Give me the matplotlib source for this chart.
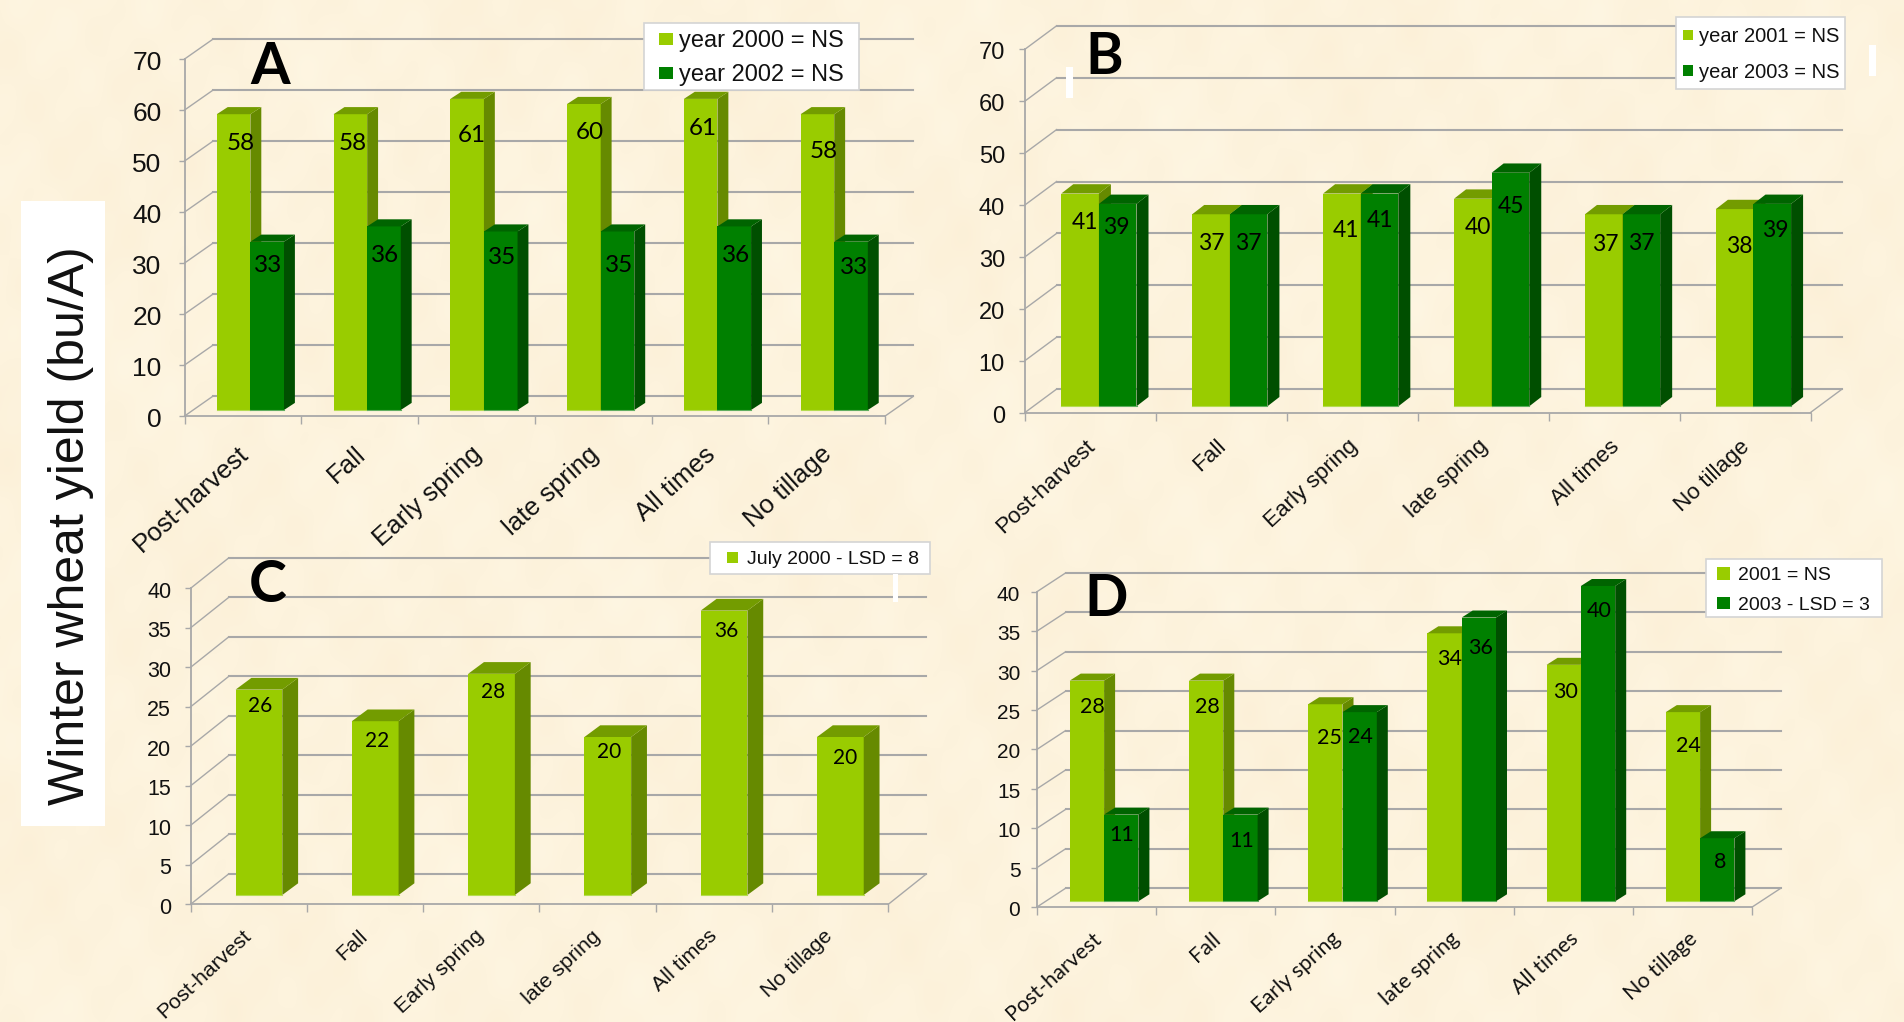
import matplotlib
matplotlib.use("Agg")
import matplotlib.pyplot as plt
import numpy as np
from matplotlib.patches import Polygon, Rectangle
from matplotlib.transforms import ScaledTranslation

W, H = 1904, 1022

CATEGORIES = ["Post-harvest", "Fall", "Early spring", "late spring", "All times", "No tillage"]

A_2000 = [58, 58, 61, 60, 61, 58]
A_2002 = [33, 36, 35, 35, 36, 33]
B_2001 = [41, 37, 41, 40, 37, 38]
B_2003 = [39, 37, 41, 45, 37, 39]
C_2000 = [26, 22, 28, 20, 36, 20]
D_2001 = [28, 28, 25, 34, 30, 24]
D_2003 = [11, 11, 24, 36, 40, 8]

LIGHT = ("#99CC00", "#668A00", "#739C00", "#B4DC50")
DARK = ("#008000", "#004F00", "#006400", "#5FAE5F")
GRID = "#a8a8a8"
ARIAL = "Liberation Sans"
CALIBRI = "Lato"


def draw_bar(ax, left, value, width, base, depth_x, depth_y, colors):
    front, side, top, rim = colors
    right = left + width
    high = base + value
    ax.bar(left, value, width, bottom=base, align="edge", color=front, linewidth=0, zorder=3, clip_on=False)
    ax.add_patch(Polygon([(right, base), (right + depth_x, base + depth_y),
                          (right + depth_x, high + depth_y), (right, high)],
                         facecolor=side, edgecolor="none", zorder=3, clip_on=False))
    ax.add_patch(Polygon([(left, high), (left + depth_x, high + depth_y),
                          (right + depth_x, high + depth_y), (right, high)],
                         facecolor=top, edgecolor="none", zorder=3, clip_on=False))
    ax.plot([left, right], [base, base], color=rim, lw=0.8, zorder=4, clip_on=False)


def draw_panel(p):
    x0, x1, y0, ytop = p["front"]
    ax = fig.add_axes([x0 / W, 1 - y0 / H, (x1 - x0) / W, (y0 - ytop) / H], zorder=1)
    ax.patch.set_alpha(0)
    ymax = p["ymax"]
    ax.set_xlim(0, 6)
    ax.set_ylim(0, ymax)
    xpx = (x1 - x0) / 6
    ypx = (y0 - ytop) / ymax

    for s in ["top", "right"]:
        ax.spines[s].set_visible(False)
    for s in ["left", "bottom"]:
        ax.spines[s].set_color(GRID)
        ax.spines[s].set_linewidth(1.3)
    ax.set_xticks(range(7))
    ax.set_xticklabels([])
    ticks = list(range(0, ymax + 1, p["step"]))
    ax.set_yticks(ticks)
    ax.set_yticklabels([str(t) for t in ticks], fontsize=p["tick_size"], family=ARIAL, color="#111111")
    ax.tick_params(axis="y", length=4, width=1, color=GRID, pad=p["pad"])
    ax.tick_params(axis="x", length=6, width=1, color=GRID)
    nudge = ScaledTranslation(0, -1.5 / 100, fig.dpi_scale_trans)
    for label in ax.get_yticklabels():
        label.set_transform(label.get_transform() + nudge)

    # back wall and floor
    wall_x = p["wall"][0] / xpx
    wall_y = p["wall"][1] / ypx
    for t in ticks:
        ax.plot([0, wall_x], [t, t + wall_y], color=GRID, lw=1.0, zorder=1, clip_on=False)
        ax.plot([wall_x, 6 + wall_x], [t + wall_y, t + wall_y], color=GRID, lw=1.5, zorder=1, clip_on=False)
    ax.plot([6, 6 + wall_x], [0, wall_y], color=GRID, lw=1.0, zorder=1, clip_on=False)

    base = (y0 - p["bar_base"]) / ypx
    start = (p["bar_left"] - x0) / xpx
    width = p["bar_width"] / xpx
    depth_x = p["bar_depth"][0] / xpx
    depth_y = p["bar_depth"][1] / ypx
    for k, (values, colors, drop, shift) in enumerate(p["series"]):
        for i, v in enumerate(values):
            left = i + start + k * width
            draw_bar(ax, left, v, width, base, depth_x, depth_y, colors)
            ax.text(left + width / 2 + shift[i] / xpx, base + v - drop[i] / ypx, str(v),
                    ha="center", va="center", fontsize=p["label_size"], family=CALIBRI,
                    color="black", zorder=5)

    for i, c in enumerate(CATEGORIES):
        ax.annotate(c, xy=(i + 0.5, 0), xytext=p["cat_offset"], textcoords="offset pixels",
                    ha="right", va="center", rotation=p["cat_angle"], rotation_mode="anchor",
                    fontsize=p["cat_size"], family=p["cat_font"], color="#111111", annotation_clip=False)


def draw_legend(box, entries, size):
    bx0, bx1, by0, by1 = box
    over.add_patch(Rectangle((bx0, by0), bx1 - bx0, by1 - by0, facecolor="white", edgecolor="#d4d4d4", lw=1.2))
    for text, color, (sx0, sx1, sy0, sy1), tx in entries:
        over.add_patch(Rectangle((sx0, sy0), sx1 - sx0, sy1 - sy0, facecolor=color, edgecolor="none"))
        over.text(tx, (sy0 + sy1) / 2, text, ha="left", va="center_baseline", fontsize=size,
                  family=ARIAL, color="#111111")


fig = plt.figure(figsize=(W / 100, H / 100), dpi=100)

# parchment background, soft blotches on a cream base
bg = fig.add_axes([0, 0, 1, 1], zorder=0)
bg.set_axis_off()
yy, xx = np.mgrid[0:H:4, 0:W:4]
blotch = (np.sin(xx / 47.0 + yy / 83.0) * 0.5 + np.sin(xx / 19.0 - yy / 31.0) * 0.6
          + np.sin(xx / 113.0 - yy / 59.0) * 0.5 + np.sin(xx / 11.0 + yy / 13.0) * 0.5
          + np.sin(xx / 7.0 - yy / 17.0) * 0.3)
tex = np.zeros(xx.shape + (3,))
tex[..., 0] = (253 + blotch * 0.5) / 255
tex[..., 1] = (243 + blotch * 1.2) / 255
tex[..., 2] = (221 + blotch * 2.2) / 255
bg.imshow(np.clip(tex, 0, 1), extent=(0, W, H, 0), aspect="auto", interpolation="bicubic")
bg.set_xlim(0, W)
bg.set_ylim(H, 0)

# y title sits on its own white block
bg.add_patch(Rectangle((21, 201), 84, 625, facecolor="white", edgecolor="none"))
bg.text(71, 526, "Winter wheat yield (bu/A)", rotation=90, ha="center", va="center",
        fontsize=36, family=ARIAL, color="#111111")

over = fig.add_axes([0, 0, 1, 1], zorder=2)
over.set_axis_off()
over.patch.set_alpha(0)
over.set_xlim(0, W)
over.set_ylim(H, 0)

panels = [
    dict(front=(184.6, 885.2, 416, 59), ymax=70, step=10, wall=(28, 19.6), bar_base=410, bar_left=216.8,
         bar_width=33.6, bar_depth=(10.9, 7.1), tick_size=19, pad=12.6, label_size=17.5,
         cat_size=18.6, cat_font=ARIAL, cat_angle=42, cat_offset=(2, -35),
         series=[(A_2000, LIGHT, [29.6, 29.6, 37, 29, 30, 37], [7, 2, 5, 5.6, 2, 6]),
                 (A_2002, DARK, [23.7, 29, 26.5, 34, 29, 26.3], [1, 1, 1.4, 1.3, 1.8, 3])]),
    dict(front=(1025, 1810.5, 412.5, 49.2), ymax=70, step=10, wall=(31.6, 23.4), bar_base=406.3, bar_left=1061.3,
         bar_width=37.6, bar_depth=(12, 9.3), tick_size=17, pad=10.4, label_size=16.5,
         cat_size=16.2, cat_font=ARIAL, cat_angle=43, cat_offset=(2, -31),
         series=[(B_2001, LIGHT, [29, 29, 37, 29, 30, 37.5], [5, 0, 4, 5, 1.6, 5]),
                 (B_2003, DARK, [24, 29, 27, 33.7, 29, 27], [-1, 0, 0, 0.5, 0, 2.5])]),
    dict(front=(190.6, 888.3, 904.3, 588.3), ymax=40, step=5, wall=(38, 30.3), bar_base=895, bar_left=235.6,
         bar_width=46.7, bar_depth=(15.8, 11.7), tick_size=15.5, pad=10, label_size=15,
         cat_size=15.4, cat_font=ARIAL, cat_angle=43, cat_offset=(0, -29),
         series=[(C_2000, LIGHT, [16.4, 19.8, 18.5, 15, 20.4, 21], [1, 1.7, 1.4, 1.7, 2.6, 4.5])]),
    dict(front=(1037, 1752.2, 907, 591.7), ymax=40, step=5, wall=(28.5, 18.7), bar_base=901.3, bar_left=1069.8,
         bar_width=34.3, bar_depth=(11, 7), tick_size=15, pad=8, label_size=15.5,
         cat_size=15.5, cat_font=CALIBRI, cat_angle=42, cat_offset=(2, -29),
         series=[(D_2001, LIGHT, [26, 26, 33.4, 25.3, 26.8, 33.5], [5, 1, 4.5, 4.6, 1.4, 5]),
                 (D_2003, DARK, [20.4, 26, 24.5, 30, 25, 24], [0.4, 1, 1, 1.6, 1.4, 3])]),
]
for p in panels:
    draw_panel(p)

draw_legend((644, 858.5, 23, 90),
            [("year 2000 = NS", LIGHT[0], (659, 673, 33, 45), 679),
             ("year 2002 = NS", DARK[0], (659, 673, 67, 79), 679)], 17)
draw_legend((1675.7, 1845, 17, 89),
            [("year 2001 = NS", LIGHT[0], (1683, 1693, 30, 40), 1699),
             ("year 2003 = NS", DARK[0], (1683, 1693, 65.4, 75.8), 1699)], 14.5)
draw_legend((710.4, 929.6, 541.7, 574),
            [("July 2000 - LSD = 8", LIGHT[0], (727, 738, 552, 563.3), 746.8)], 14)
draw_legend((1705.5, 1881.6, 558.7, 617.3),
            [("2001 = NS", LIGHT[0], (1717, 1730, 566.7, 580), 1737.7),
             ("2003 - LSD = 3", DARK[0], (1717, 1730, 596.7, 609.3), 1737.7)], 14)

# panel letters
for letter, x, y in [("A", 270, 67), ("B", 1104, 57), ("C", 268, 585), ("D", 1106, 600)]:
    over.text(x, y, letter, ha="center", va="center", fontsize=41, fontweight="bold", family=CALIBRI, color="black")

# small white slivers left on the slide
for x, y, w, h in [(1066, 67, 7, 31), (1869, 45, 7, 31), (892.5, 574, 5.5, 28)]:
    over.add_patch(Rectangle((x, y), w, h, facecolor="white", edgecolor="none"))

fig.savefig("out.png", dpi=100)
